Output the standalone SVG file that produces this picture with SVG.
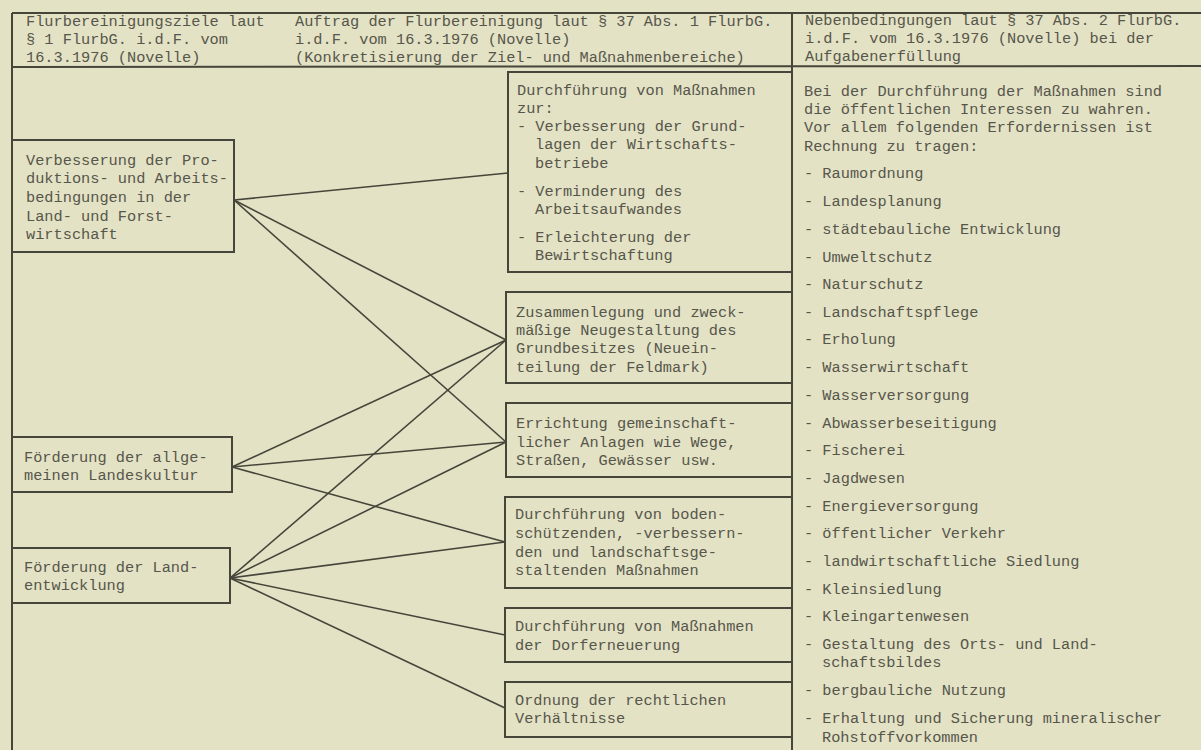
<svg xmlns="http://www.w3.org/2000/svg" width="1201" height="750" viewBox="0 0 1201 750">
<style>
.bg{fill:#e3e2c5}
.rule{stroke:#46453a;stroke-width:2;fill:none}
.box{fill:none;stroke:#46453a;stroke-width:2}
.con{stroke:#46453a;stroke-width:1.6;fill:none}
text{font-family:"Liberation Mono","Courier New",monospace;font-size:15.3px;fill:#57564b}
</style>
<rect class="bg" x="0" y="0" width="1201" height="750"/>
<g id="table">
<line class="rule" x1="12" y1="13" x2="1201" y2="13"/>
<line class="rule" x1="12" y1="67" x2="1201" y2="66"/>
<line class="rule" x1="12" y1="13" x2="12" y2="750"/>
<line class="rule" x1="792" y1="13" x2="792" y2="750"/>
</g>
<g id="header">
<text x="26" y="26">Flurbereinigungsziele laut</text>
<text x="26" y="44">§ 1 FlurbG. i.d.F. vom</text>
<text x="26" y="62">16.3.1976 (Novelle)</text>
<text x="295" y="26">Auftrag der Flurbereinigung laut § 37 Abs. 1 FlurbG.</text>
<text x="295" y="44">i.d.F. vom 16.3.1976 (Novelle)</text>
<text x="295" y="62">(Konkretisierung der Ziel- und Maßnahmenbereiche)</text>
<text x="805" y="25">Nebenbedingungen laut § 37 Abs. 2 FlurbG.</text>
<text x="805" y="43">i.d.F. vom 16.3.1976 (Novelle) bei der</text>
<text x="805" y="61">Aufgabenerfüllung</text>
</g>
<g id="connectors">
<line class="con" x1="234" y1="200" x2="508" y2="173"/>
<line class="con" x1="234" y1="200" x2="506" y2="340"/>
<line class="con" x1="234" y1="200" x2="506" y2="442"/>
<line class="con" x1="232" y1="467" x2="506" y2="340"/>
<line class="con" x1="232" y1="467" x2="506" y2="442"/>
<line class="con" x1="232" y1="467" x2="505" y2="542"/>
<line class="con" x1="230" y1="578" x2="506" y2="340"/>
<line class="con" x1="230" y1="578" x2="506" y2="442"/>
<line class="con" x1="230" y1="578" x2="505" y2="542"/>
<line class="con" x1="230" y1="578" x2="505" y2="635"/>
<line class="con" x1="230" y1="578" x2="505" y2="708"/>
</g>
<g id="goal-1">
<rect class="box" x="12" y="140" width="222" height="112"/>
<text x="26" y="165">Verbesserung der Pro-</text>
<text x="26" y="183">duktions- und Arbeits-</text>
<text x="26" y="202">bedingungen in der</text>
<text x="26" y="221">Land- und Forst-</text>
<text x="26" y="239">wirtschaft</text>
</g>
<g id="goal-2">
<rect class="box" x="12" y="437" width="220" height="55"/>
<text x="24" y="462">Förderung der allge-</text>
<text x="24" y="480">meinen Landeskultur</text>
</g>
<g id="goal-3">
<rect class="box" x="12" y="548" width="218" height="55"/>
<text x="24" y="572">Förderung der Land-</text>
<text x="24" y="590">entwicklung</text>
</g>
<g id="task-1">
<rect class="box" x="508" y="72" width="284" height="200"/>
<text x="517" y="95">Durchführung von Maßnahmen</text>
<text x="517" y="113">zur:</text>
<text x="517" y="131">- Verbesserung der Grund-</text>
<text x="535" y="149">lagen der Wirtschafts-</text>
<text x="535" y="168">betriebe</text>
<text x="517" y="196">- Verminderung des</text>
<text x="535" y="214">Arbeitsaufwandes</text>
<text x="517" y="242">- Erleichterung der</text>
<text x="535" y="260">Bewirtschaftung</text>
</g>
<g id="task-2">
<rect class="box" x="506" y="292" width="286" height="91"/>
<text x="516" y="317">Zusammenlegung und zweck-</text>
<text x="516" y="335">mäßige Neugestaltung des</text>
<text x="516" y="353">Grundbesitzes (Neuein-</text>
<text x="516" y="372">teilung der Feldmark)</text>
</g>
<g id="task-3">
<rect class="box" x="506" y="403" width="286" height="74"/>
<text x="516" y="428">Errichtung gemeinschaft-</text>
<text x="516" y="447">licher Anlagen wie Wege,</text>
<text x="516" y="465">Straßen, Gewässer usw.</text>
</g>
<g id="task-4">
<rect class="box" x="505" y="497" width="287" height="91"/>
<text x="515" y="519">Durchführung von boden-</text>
<text x="515" y="538">schützenden, -verbessern-</text>
<text x="515" y="557">den und landschaftsge-</text>
<text x="515" y="575">staltenden Maßnahmen</text>
</g>
<g id="task-5">
<rect class="box" x="505" y="608" width="287" height="54"/>
<text x="515" y="631">Durchführung von Maßnahmen</text>
<text x="515" y="650">der Dorferneuerung</text>
</g>
<g id="task-6">
<rect class="box" x="505" y="682" width="287" height="55"/>
<text x="515" y="705">Ordnung der rechtlichen</text>
<text x="515" y="723">Verhältnisse</text>
</g>
<g id="constraints">
<text x="804" y="96">Bei der Durchführung der Maßnahmen sind</text>
<text x="804" y="114">die öffentlichen Interessen zu wahren.</text>
<text x="804" y="132">Vor allem folgenden Erfordernissen ist</text>
<text x="804" y="151">Rechnung zu tragen:</text>
<text x="804" y="178">- Raumordnung</text>
<text x="804" y="206">- Landesplanung</text>
<text x="804" y="234">- städtebauliche Entwicklung</text>
<text x="804" y="262">- Umweltschutz</text>
<text x="804" y="289">- Naturschutz</text>
<text x="804" y="317">- Landschaftspflege</text>
<text x="804" y="344">- Erholung</text>
<text x="804" y="372">- Wasserwirtschaft</text>
<text x="804" y="400">- Wasserversorgung</text>
<text x="804" y="428">- Abwasserbeseitigung</text>
<text x="804" y="455">- Fischerei</text>
<text x="804" y="483">- Jagdwesen</text>
<text x="804" y="511">- Energieversorgung</text>
<text x="804" y="538">- öffentlicher Verkehr</text>
<text x="804" y="566">- landwirtschaftliche Siedlung</text>
<text x="804" y="594">- Kleinsiedlung</text>
<text x="804" y="621">- Kleingartenwesen</text>
<text x="804" y="649">- Gestaltung des Orts- und Land-</text>
<text x="822" y="667">schaftsbildes</text>
<text x="804" y="695">- bergbauliche Nutzung</text>
<text x="804" y="723">- Erhaltung und Sicherung mineralischer</text>
<text x="822" y="742">Rohstoffvorkommen</text>
</g>
</svg>
